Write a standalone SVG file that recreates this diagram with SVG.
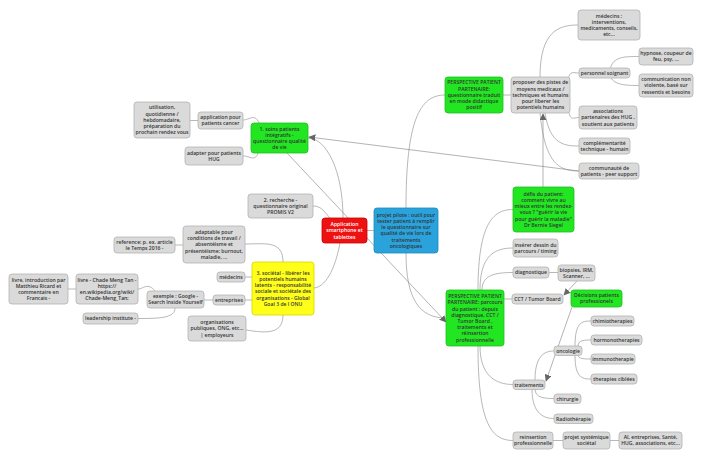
<svg xmlns="http://www.w3.org/2000/svg" width="704" height="460" viewBox="0 0 704 460">
<style>
text{font-family:"Open Sans","Liberation Sans",sans-serif;font-size:5.1px;font-weight:600;fill:#333;text-anchor:middle}
.g rect{fill:#dadada;stroke:#b3b3b3;stroke-width:0.8}
.gr rect{fill:#22e622;stroke:#1fbf1f;stroke-width:0.8}
.red rect{fill:#ee1111;stroke:#c80000;stroke-width:0.8}
.red text{fill:#fff}
.blue rect{fill:#2aa3dd;stroke:#2088bb;stroke-width:0.8}
.yel rect{fill:#ffff1a;stroke:#d6d600;stroke-width:0.8}
#conn path{fill:none;stroke:#9a9a9a;stroke-width:0.7}
#conn .rel{stroke:#808080;stroke-width:0.6;marker-end:url(#ah)}
</style>
<defs>
<marker id="ah" viewBox="0 0 10 10" refX="9" refY="5" markerWidth="7" markerHeight="7" orient="auto" markerUnits="userSpaceOnUse">
<path d="M0,0 L10,5 L0,10 z" fill="#666"/>
</marker>
</defs>
<rect width="704" height="460" fill="#fff"/>
<g id="conn">
<path d="M343,218 C343,170 326,138 308,138"/>
<path d="M335,225 C325,212 322,206 313,206"/>
<path d="M340,243 C335,270 325,288 313,288"/>
<path d="M367,230.5 L374,230.5"/>
<path d="M260,125 C255,112 250,120 243,120"/>
<path d="M258,153 C255,162 250,156 243,156"/>
<path d="M198,120.5 L190,120.5"/>
<path d="M283,262 C283,240 265,244 245,244"/>
<path d="M253,277 L245,277"/>
<path d="M253,300 L245,300"/>
<path d="M283,315 C283,335 265,333 246,330"/>
<path d="M183,245 L175,245"/>
<path d="M213,300 L204,300"/>
<path d="M155,291 C148,282 143,289 138,289"/>
<path d="M175,308 C175,318 160,318.5 138,318.5"/>
<path d="M76,289 L68,289"/>
<path d="M406,208 C406,120 420,95 445,95"/>
<path d="M406,253 C406,300 420,318 446,318"/>
<path d="M503,95 L511,95"/>
<path d="M540,77 C540,30 560,25 578,25"/>
<path d="M568,80 C570,70 573,73 579,73"/>
<path d="M568,108 C570,122 573,117.5 579,117.5"/>
<path d="M545,113 C550,145 565,146 579,146"/>
<path d="M540,113 C545,165 560,171 579,171"/>
<path d="M610,73 C610,56 625,56.5 639,56.5"/>
<path d="M610,73 C610,85 625,85.5 639,85.5"/>
<path d="M478,290 C478,220 495,209.5 513,209.5"/>
<path d="M480,290 C480,255 495,248 513,248"/>
<path d="M482,290 C482,275 495,272.5 513,272.5"/>
<path d="M504,299 L512,299"/>
<path d="M480,346 C480,375 495,384.5 513,384.5"/>
<path d="M478,346 C478,420 490,440.5 513,440.5"/>
<path d="M549,272.5 L558,272.5"/>
<path d="M535,380 C535,355 545,351 554,351"/>
<path d="M535,389 C535,398 545,398.5 554,398.5"/>
<path d="M532,389 C532,415 545,418.5 554,418.5"/>
<path d="M575,346 C575,322 582,321 591,321"/>
<path d="M578,346 C578,340 585,340 591,340"/>
<path d="M578,355 C578,359 585,359 591,359"/>
<path d="M575,355 C575,378 582,379 591,379"/>
<path d="M553,440.5 L563,440.5"/>
<path d="M610,440.5 L619,440.5"/>
<path class="rel" d="M579,171 L309,137"/>
<path class="rel" d="M543,187 L543,114"/>
<path class="rel" d="M577,281 L564,295"/>
<path class="rel" d="M572,307 L546,381"/>
<path class="rel" d="M287,153 L446,322"/>
</g>

<g id="app" class="red"><rect x="322" y="218" width="45" height="25" rx="3"/>
<text x="344.5" y="226.1">Application<tspan x="344.5" dy="6.2">smartphone et</tspan><tspan x="344.5" dy="6.2">tablettes</tspan></text></g>

<g id="pilote" class="blue"><rect x="374" y="208" width="64" height="45" rx="3"/>
<text x="406" y="216.8">projet pilote : outil pour<tspan x="406" dy="6.2">tester patient à remplir</tspan><tspan x="406" dy="6.2">le questionnaire sur</tspan><tspan x="406" dy="6.2">qualité de vie lors de</tspan><tspan x="406" dy="6.2">traitements</tspan><tspan x="406" dy="6.2">oncologiques</tspan></text></g>

<g id="soins" class="gr"><rect x="251" y="123" width="57" height="30" rx="3"/>
<text x="279.5" y="130.5">1. soins patients<tspan x="279.5" dy="6.2">intégratifs -</tspan><tspan x="279.5" dy="6.2">questionnaire qualité</tspan><tspan x="279.5" dy="6.2">de vie</tspan></text></g>

<g id="appcancer" class="g"><rect x="198" y="112" width="45" height="17" rx="3"/>
<text x="220.5" y="119.2">application pour<tspan x="220.5" dy="6.2">patients cancer</tspan></text></g>

<g id="utilisation" class="g"><rect x="134" y="102" width="56" height="36" rx="3"/>
<text x="162" y="109.4">utilisation,<tspan x="162" dy="6.2">quotidienne /</tspan><tspan x="162" dy="6.2">hebdomadaire,</tspan><tspan x="162" dy="6.2">préparation du</tspan><tspan x="162" dy="6.2">prochain rendez vous</tspan></text></g>

<g id="adapterhug" class="g"><rect x="185" y="147" width="58" height="18" rx="3"/>
<text x="214" y="154.7">adapter pour patients<tspan x="214" dy="6.2">HUG</tspan></text></g>

<g id="recherche" class="g"><rect x="248" y="194" width="65" height="24" rx="3"/>
<text x="280.5" y="201.6">2. recherche -<tspan x="280.5" dy="6.2">questionnaire original</tspan><tspan x="280.5" dy="6.2">PROMIS V2</tspan></text></g>

<g id="societal" class="yel"><rect x="252" y="262" width="62" height="53" rx="3"/>
<text x="283" y="274.8">3. sociétal - libérer les<tspan x="283" dy="6.2">potentiels humains</tspan><tspan x="283" dy="6.2">latents - responsabilité</tspan><tspan x="283" dy="6.2">sociale et sociétale des</tspan><tspan x="283" dy="6.2">organisations - Global</tspan><tspan x="283" dy="6.2">Goal 3 de l ONU</tspan></text></g>

<g id="adaptable" class="g"><rect x="183" y="226" width="62" height="37" rx="3"/>
<text x="214" y="233.9">adaptable pour<tspan x="214" dy="6.2">conditions de travail /</tspan><tspan x="214" dy="6.2">absentéisme et</tspan><tspan x="214" dy="6.2">présentéisme: burnout,</tspan><tspan x="214" dy="6.2">maladie, ...</tspan></text></g>

<g id="reference" class="g"><rect x="114" y="237" width="61" height="16" rx="3"/>
<text x="144.5" y="243.7">reference: p. ex. article<tspan x="144.5" dy="6.2">le Temps 2016 -</tspan></text></g>

<g id="medecinsL" class="g"><rect x="217" y="272" width="28" height="10" rx="3"/>
<text x="231" y="278.8">médecins</text></g>

<g id="entreprises" class="g"><rect x="213" y="295" width="32" height="10" rx="3"/>
<text x="229" y="301.8">entreprises</text></g>

<g id="exemple" class="g"><rect x="147" y="291" width="57" height="17" rx="3"/>
<text x="175.5" y="298.2">exemple : Google -<tspan x="175.5" dy="6.2">Search Inside Yourself</tspan></text></g>

<g id="livrechade" class="g"><rect x="76" y="274" width="62" height="30" rx="3"/>
<text x="107" y="281.5">livre - Chade Meng Tan -<tspan x="107" dy="6.2">https://</tspan><tspan x="107" dy="6.2">en.wikipedia.org/wiki/</tspan><tspan x="107" dy="6.2">Chade-Meng_Tan;</tspan></text></g>

<g id="livreintro" class="g"><rect x="9" y="274" width="59" height="30" rx="3"/>
<text x="38.5" y="281.5">livre, introduction par<tspan x="38.5" dy="6.2">Matthieu Ricard et</tspan><tspan x="38.5" dy="6.2">commentaire en</tspan><tspan x="38.5" dy="6.2">Francais -</tspan></text></g>

<g id="leadership" class="g"><rect x="83" y="313" width="55" height="11" rx="3"/>
<text x="110.5" y="320.3">leadership institute -</text></g>

<g id="organisations" class="g"><rect x="188" y="316" width="58" height="25" rx="3"/>
<text x="217" y="324.1">organisations<tspan x="217" dy="6.2">publiques, ONG, etc...</tspan><tspan x="217" dy="6.2">| employeurs</tspan></text></g>

<g id="ppquest" class="gr"><rect x="445" y="77" width="58" height="36" rx="3"/>
<text x="474" y="84.4">PERSPECTIVE PATIENT<tspan x="474" dy="6.2">PARTENAIRE:</tspan><tspan x="474" dy="6.2">questionnaire traduit</tspan><tspan x="474" dy="6.2">en mode didactique</tspan><tspan x="474" dy="6.2">positif</tspan></text></g>

<g id="proposer" class="g"><rect x="511" y="77" width="59" height="36" rx="3"/>
<text x="540.5" y="84.4">proposer des pistes de<tspan x="540.5" dy="6.2">moyens medicaux /</tspan><tspan x="540.5" dy="6.2">techniques et humains</tspan><tspan x="540.5" dy="6.2">pour liberer les</tspan><tspan x="540.5" dy="6.2">potentiels humains</tspan></text></g>

<g id="medecinsR" class="g"><rect x="578" y="10" width="62" height="30" rx="3"/>
<text x="609" y="17.5">médecins :<tspan x="609" dy="6.2">interventions,</tspan><tspan x="609" dy="6.2">medicaments, conseils,</tspan><tspan x="609" dy="6.2">etc...</tspan></text></g>

<g id="personnel" class="g"><rect x="579" y="68" width="51" height="10" rx="3"/>
<text x="604.5" y="74.8">personnel soignant</text></g>

<g id="hypnose" class="g"><rect x="639" y="48" width="54" height="17" rx="3"/>
<text x="666" y="55.2">hypnose, coupeur de<tspan x="666" dy="6.2">feu, psy, ...</tspan></text></g>

<g id="communication" class="g"><rect x="639" y="74" width="54" height="23" rx="3"/>
<text x="666" y="81.1">communication non<tspan x="666" dy="6.2">violente, basé sur</tspan><tspan x="666" dy="6.2">ressentis et besoins</tspan></text></g>

<g id="associations" class="g"><rect x="579" y="106" width="58" height="23" rx="3"/>
<text x="608" y="113.1">associations<tspan x="608" dy="6.2">partenaires des HUG ,</tspan><tspan x="608" dy="6.2">soutient aux patients</tspan></text></g>

<g id="complementarite" class="g"><rect x="579" y="138" width="51" height="16" rx="3"/>
<text x="604.5" y="144.7">complémentarité<tspan x="604.5" dy="6.2">technique - humain</tspan></text></g>

<g id="communaute" class="g"><rect x="579" y="163" width="60" height="16" rx="3"/>
<text x="609" y="169.7">communauté de<tspan x="609" dy="6.2">patients - peer support</tspan></text></g>

<g id="defis" class="gr"><rect x="513" y="187" width="61" height="45" rx="3"/>
<text x="543.5" y="195.8">défis du patient:<tspan x="543.5" dy="6.2">comment vivre au</tspan><tspan x="543.5" dy="6.2">mieux entre les rendez-</tspan><tspan x="543.5" dy="6.2">vous ? "guérir la vie</tspan><tspan x="543.5" dy="6.2">pour guérir la maladie"</tspan><tspan x="543.5" dy="6.2">Dr Bernie Siegel</tspan></text></g>

<g id="inserer" class="g"><rect x="513" y="239" width="45" height="18" rx="3"/>
<text x="535.5" y="246.7">insérer dessin du<tspan x="535.5" dy="6.2">parcours / timing</tspan></text></g>

<g id="diagnostique" class="g"><rect x="513" y="267" width="36" height="11" rx="3"/>
<text x="531" y="274.3">diagnostique</text></g>

<g id="biopsies" class="g"><rect x="558" y="265" width="37" height="16" rx="3"/>
<text x="576.5" y="271.7">biopsies, IRM,<tspan x="576.5" dy="6.2">Scanner, ...</tspan></text></g>

<g id="cct" class="g"><rect x="512" y="294" width="51" height="10" rx="3"/>
<text x="537.5" y="300.8">CCT / Tumor Board</text></g>

<g id="decisions" class="gr"><rect x="571" y="290" width="51" height="17" rx="3"/>
<text x="596.5" y="297.2">Décisions patients<tspan x="596.5" dy="6.2">professionels</tspan></text></g>

<g id="parcours" class="gr"><rect x="446" y="290" width="58" height="56" rx="3"/>
<text x="475" y="298.1">PERSPECTIVE PATIENT<tspan x="475" dy="6.2">PARTENAIRE: parcours</tspan><tspan x="475" dy="6.2">du patient : depuis</tspan><tspan x="475" dy="6.2">diagnostique, CCT /</tspan><tspan x="475" dy="6.2">Tumor Board ,</tspan><tspan x="475" dy="6.2">traitements et</tspan><tspan x="475" dy="6.2">réinsertion</tspan><tspan x="475" dy="6.2">professionnelle</tspan></text></g>

<g id="oncologie" class="g"><rect x="554" y="346" width="28" height="9.5" rx="3"/>
<text x="568" y="352.7">oncologie</text></g>

<g id="chimio" class="g"><rect x="591" y="316" width="43" height="10" rx="3"/>
<text x="612.5" y="322.8">chimiotherapies</text></g>

<g id="hormono" class="g"><rect x="591" y="335" width="51" height="10" rx="3"/>
<text x="616.5" y="341.8">hormonotherapies</text></g>

<g id="immuno" class="g"><rect x="591" y="354" width="44" height="10" rx="3"/>
<text x="613" y="360.8">immunotherapie</text></g>

<g id="ciblees" class="g"><rect x="591" y="374" width="46" height="10" rx="3"/>
<text x="614" y="380.8">therapies ciblées</text></g>

<g id="traitements" class="g"><rect x="513" y="380" width="32" height="9.5" rx="3"/>
<text x="529" y="386.5">traitements</text></g>

<g id="chirurgie" class="g"><rect x="554" y="394" width="27" height="9.5" rx="3"/>
<text x="567.5" y="400.5">chirurgie</text></g>

<g id="radio" class="g"><rect x="554" y="414" width="39" height="9.5" rx="3"/>
<text x="573.5" y="420.5">Radiothérapie</text></g>

<g id="reinsertion" class="g"><rect x="513" y="432" width="40" height="17" rx="3"/>
<text x="533" y="439.2">reinsertion<tspan x="533" dy="6.2">professionnelle</tspan></text></g>

<g id="systemique" class="g"><rect x="563" y="432" width="47" height="17" rx="3"/>
<text x="586.5" y="439.2">projet systémique<tspan x="586.5" dy="6.2">sociétal</tspan></text></g>

<g id="ai" class="g"><rect x="619" y="432" width="63" height="17" rx="3"/>
<text x="650.5" y="439.2">AI, entreprises, Santé,<tspan x="650.5" dy="6.2">HUG, associations, etc...</tspan></text></g>
</svg>
